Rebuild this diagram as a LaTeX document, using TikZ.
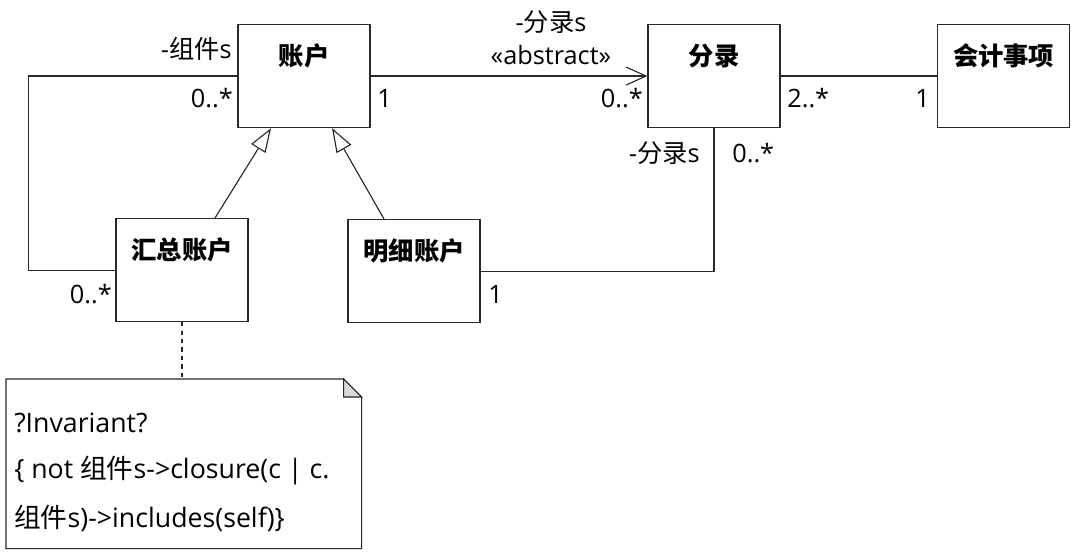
\documentclass[tikz,border=0pt]{standalone}
\usepackage{fontspec}
\setmainfont{Open Sans}
\newfontfamily\cjk{Noto Sans CJK SC}
\newcommand{\zh}[1]{{\cjk #1}}
\usepackage{tikz}
\usetikzlibrary{arrows.meta,positioning,calc}
\definecolor{edge}{RGB}{40,40,40}

\begin{document}
\begin{tikzpicture}[
    classbox/.style={rectangle, draw=edge, line width=0.8pt, anchor=north,
                     minimum width=3.3cm, inner sep=0pt,
                     text height=1.02cm, text depth=1.555cm,
                     font=\fontsize{18}{21}\selectfont\bfseries\cjk},
    lbl/.style={inner sep=0pt, font=\fontsize{18}{21}\selectfont},
    notetext/.style={inner sep=0pt, anchor=base west, font=\fontsize{19}{22}\selectfont},
    assoc/.style={draw=edge, line width=0.8pt},
    navig/.style={assoc, -{Straight Barb[length=0.5cm, width=0.45cm]}},
    gen/.style={assoc, -{Triangle[open, length=0.6cm, width=0.42cm]}},
    notebox/.style={draw=edge, line width=0.8pt}
]
    \useasboundingbox (0,0) rectangle (27,-13.95);

    % Classes
    \node[classbox] (acct) at (7.6, -0.6) {账户};
    \node[classbox] (entry) at (17.85, -0.6) {分录};
    \node[classbox] (event) at (25.09, -0.6) {会计事项};
    \node[classbox] (summary) at (4.55, -5.45) {汇总账户};
    \node[classbox] (detail) at (10.35, -5.475) {明细账户};

    % Note
    \node[minimum width=8.875cm, minimum height=4.225cm, inner sep=0pt,
          anchor=north west] (note) at (0.15, -9.475) {};
    \draw[notebox] (note.north west) -- ([xshift=-0.45cm]note.north east)
        -- ([yshift=-0.45cm]note.north east) -- (note.south east)
        -- (note.south west) -- cycle;
    \draw[notebox, fill=gray!30] ([xshift=-0.45cm]note.north east)
        -- ([xshift=-0.45cm, yshift=-0.45cm]note.north east)
        -- ([yshift=-0.45cm]note.north east) -- cycle;
    \node[notetext] (inv1) at (0.35, -10.8) {?Invariant?};
    \node[notetext] (inv2) at (0.35, -11.95)
        {\{ not \zh{组件}s->closure(c | c.};
    \node[notetext] (inv3) at (0.35, -13.175)
        {\zh{组件}s)->includes(self)\}};

    % Connectors
    \draw[assoc] (acct.west) -| ([xshift=-2.175cm]summary.west) -- (summary.west);
    \draw[navig] (acct.east) -- (entry.west);
    \draw[assoc] (entry.east) -- (event.west);
    \draw[assoc] (detail.east) -| (entry.south);
    \draw[gen] ([xshift=0.825cm]summary.north) -- ([xshift=-0.825cm]acct.south);
    \draw[gen] ([xshift=-0.75cm]detail.north) -- ([xshift=0.7cm]acct.south);
    \draw[assoc, dashed] (summary.south) -- (summary.south |- note.north);

    % Role names and multiplicities
    \node[lbl, anchor=base east] (role1) at (5.8, -1.475) {-\zh{组件}s};
    \node[lbl, anchor=base east] (m1) at (5.825, -2.7) {0..*};
    \node[lbl, anchor=base west] (m2) at (9.425, -2.7) {1};
    \node[lbl, anchor=base] (role2) at (13.775, -0.8) {-\zh{分录}s};
    \node[lbl, anchor=base] (stereo) at (13.775, -1.625) {«abstract»};
    \node[lbl, anchor=base east] (m3) at (16.075, -2.7) {0..*};
    \node[lbl, anchor=base west] (m4) at (19.675, -2.7) {2..*};
    \node[lbl, anchor=base east] (m5) at (23.25, -2.7) {1};
    \node[lbl, anchor=base east] (role3) at (17.5, -4.075) {-\zh{分录}s};
    \node[lbl, anchor=base west] (m6) at (18.3, -4.075) {0..*};
    \node[lbl, anchor=base east] (m7) at (2.8, -7.575) {0..*};
    \node[lbl, anchor=base west] (m8) at (12.2, -7.575) {1};
\end{tikzpicture}
\end{document}
